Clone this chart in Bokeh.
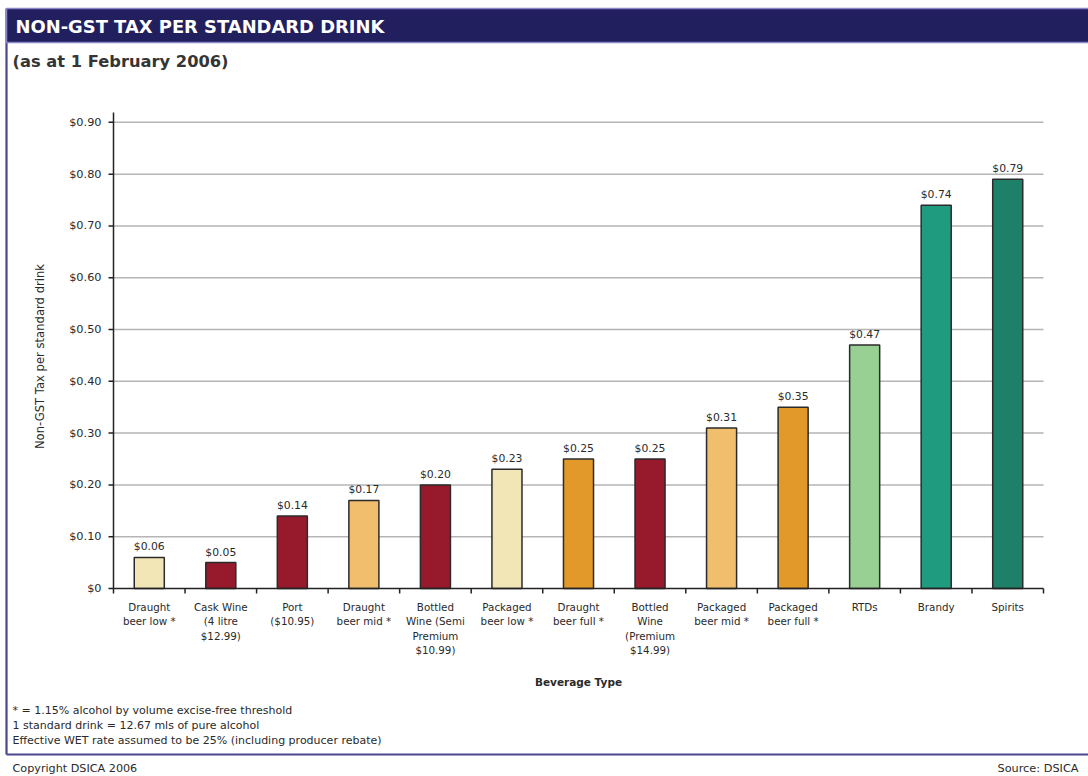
import math
from bokeh.plotting import figure
from bokeh.models import Range1d, ColumnDataSource
from bokeh.core.properties import value
from bokeh.embed import file_html
from bokeh.resources import INLINE

# ---- data -------------------------------------------------------------
categories = [
    "Draught\nbeer low *",
    "Cask Wine\n(4 litre\n$12.99)",
    "Port\n($10.95)",
    "Draught\nbeer mid *",
    "Bottled\nWine (Semi\nPremium\n$10.99)",
    "Packaged\nbeer low *",
    "Draught\nbeer full *",
    "Bottled\nWine\n(Premium\n$14.99)",
    "Packaged\nbeer mid *",
    "Packaged\nbeer full *",
    "RTDs",
    "Brandy",
    "Spirits",
]
tax_per_drink = [0.06, 0.05, 0.14, 0.17, 0.20, 0.23, 0.25, 0.25, 0.31, 0.35, 0.47, 0.74, 0.79]
beverage_group = ["beer_low", "wine", "wine", "beer_mid", "wine", "beer_low", "beer_full",
                  "wine", "beer_mid", "beer_full", "rtd", "brandy", "spirits"]
y_ticks = [0, 0.1, 0.2, 0.3, 0.4, 0.5, 0.6, 0.7, 0.8, 0.9]
y_tick_labels = ["$0", "$0.10", "$0.20", "$0.30", "$0.40", "$0.50",
                 "$0.60", "$0.70", "$0.80", "$0.90"]
y_max = 0.919
footnotes = [
    "* = 1.15% alcohol by volume excise-free threshold",
    "1 standard drink  = 12.67 mls of pure alcohol",
    "Effective WET rate assumed to be 25% (including producer rebate)",
]

# ---- styling ------------------------------------------------------------
group_colors = {
    "beer_low": "#F2E6B6",
    "wine": "#961A2B",
    "beer_mid": "#F1BE6D",
    "beer_full": "#E2992A",
    "rtd": "#98CF93",
    "brandy": "#1F9C80",
    "spirits": "#1E8068",
}
SANS = "DejaVu Sans"
INK = "#2a2a2a"
AXIS = "#222222"
NAVY = "#221F5E"
FRAME_LINE = "#4A4690"

W, H = 1088, 776
FL, FR, FT, FB = 113, 1043, 112, 588   # chart area edges in page pixels

n = len(categories)
centers = [i + 0.5 for i in range(n)]
bounds = list(range(n + 1))

# page in pixel units (y down); the chart gets its own category / value scales
p = figure(width=W, height=H, output_backend="svg", toolbar_location=None,
           x_range=Range1d(0, W), y_range=Range1d(H, 0),
           x_axis_location=None, y_axis_location=None, min_border=0)
p.grid.visible = False
p.outline_line_color = None
p.background_fill_color = "white"
p.border_fill_color = "white"

cat_per_px = n / (FR - FL)
val_per_px = y_max / (FB - FT)
p.extra_x_ranges = {"cat": Range1d(-FL * cat_per_px, n + (W - FR) * cat_per_px)}
p.extra_y_ranges = {"tax": Range1d(-(H - FB) * val_per_px, y_max + FT * val_per_px)}
chart = dict(x_range_name="cat", y_range_name="tax")

# ---- page frame and title band --------------------------------------------
p.line([6, 6], [8, 754], line_color=FRAME_LINE, line_width=2.2)
p.line([6, W], [754, 754], line_color=FRAME_LINE, line_width=2.2)
p.quad(left=6, right=W + 10, top=8, bottom=42, fill_color=NAVY,
       line_color="#8C86C8", line_width=1.5)
p.text(x=[15], y=[25.5], text=["NON-GST TAX PER STANDARD DRINK"], text_color="white",
       text_font=value(SANS), text_font_style="bold", text_font_size="17.9px",
       text_baseline="middle")
p.text(x=[12], y=[61], text=["(as at 1 February 2006)"], text_color="#353535",
       text_font=value(SANS), text_font_style="bold", text_font_size="16.3px",
       text_baseline="middle")

# ---- chart ---------------------------------------------------------------
# horizontal gridlines
p.segment(x0=[0] * (len(y_ticks) - 1), x1=[n] * (len(y_ticks) - 1),
          y0=y_ticks[1:], y1=y_ticks[1:], line_color="#B5B5B5", line_width=1.5, **chart)

src = ColumnDataSource(dict(
    x=centers,
    top=tax_per_drink,
    color=[group_colors[g] for g in beverage_group],
    label=["$%.2f" % v for v in tax_per_drink],
))
p.vbar(x="x", top="top", width=0.42, source=src, fill_color="color",
       line_color="#2b2b2b", line_width=1.5, **chart)
p.text(x="x", y="top", text="label", source=src, text_align="center",
       text_baseline="bottom", y_offset=-4, text_font=value(SANS),
       text_font_size="10.8px", text_color=INK, **chart)

# value axis
p.segment(x0=[0], x1=[0], y0=[0], y1=[y_max], line_color=AXIS, line_width=1.5, **chart)
p.segment(x0=[0] * len(y_ticks), x1=[-5 * cat_per_px] * len(y_ticks),
          y0=y_ticks, y1=y_ticks, line_color=AXIS, line_width=1.5, **chart)
p.text(x=[0] * len(y_ticks), y=y_ticks, text=y_tick_labels, x_offset=-12,
       text_align="right", text_baseline="middle", text_font=value(SANS),
       text_font_size="11.3px", text_color=INK, **chart)
p.text(x=[39], y=[(FT + FB) / 2 + 6], text=["Non-GST Tax per standard drink"],
       angle=math.pi / 2, text_align="center", text_baseline="middle",
       text_font=value(SANS), text_font_size="11.6px", text_color=INK)

# category axis: ticks on the boundaries, names under each bar
p.segment(x0=[0], x1=[n], y0=[0], y1=[0], line_color=AXIS, line_width=1.5, **chart)
p.segment(x0=bounds, x1=bounds, y0=[0] * len(bounds), y1=[-5 * val_per_px] * len(bounds),
          line_color=AXIS, line_width=1.5, **chart)
p.text(x=centers, y=[0] * n, text=categories, y_offset=12, text_align="center",
       text_baseline="top", text_line_height=1.22, text_font=value(SANS),
       text_font_size="10.3px", text_color=INK, **chart)
p.text(x=[(FL + FR) / 2], y=[681], text=["Beverage Type"], text_align="center",
       text_baseline="middle", text_font=value(SANS), text_font_style="bold",
       text_font_size="10.5px", text_color=INK)

# ---- notes ---------------------------------------------------------------
p.text(x=[12] * len(footnotes), y=[710 + 15 * i for i in range(len(footnotes))],
       text=footnotes, text_baseline="middle", text_font=value(SANS),
       text_font_size="11px", text_color=INK)
p.text(x=[12], y=[768], text=["Copyright DSICA 2006"], text_baseline="middle",
       text_font=value(SANS), text_font_size="11.2px", text_color=INK)
p.text(x=[1078], y=[768], text=["Source: DSICA"], text_baseline="middle",
       text_align="right", text_font=value(SANS), text_font_size="11.3px", text_color=INK)

open("out.html", "w").write(file_html(p, INLINE))
